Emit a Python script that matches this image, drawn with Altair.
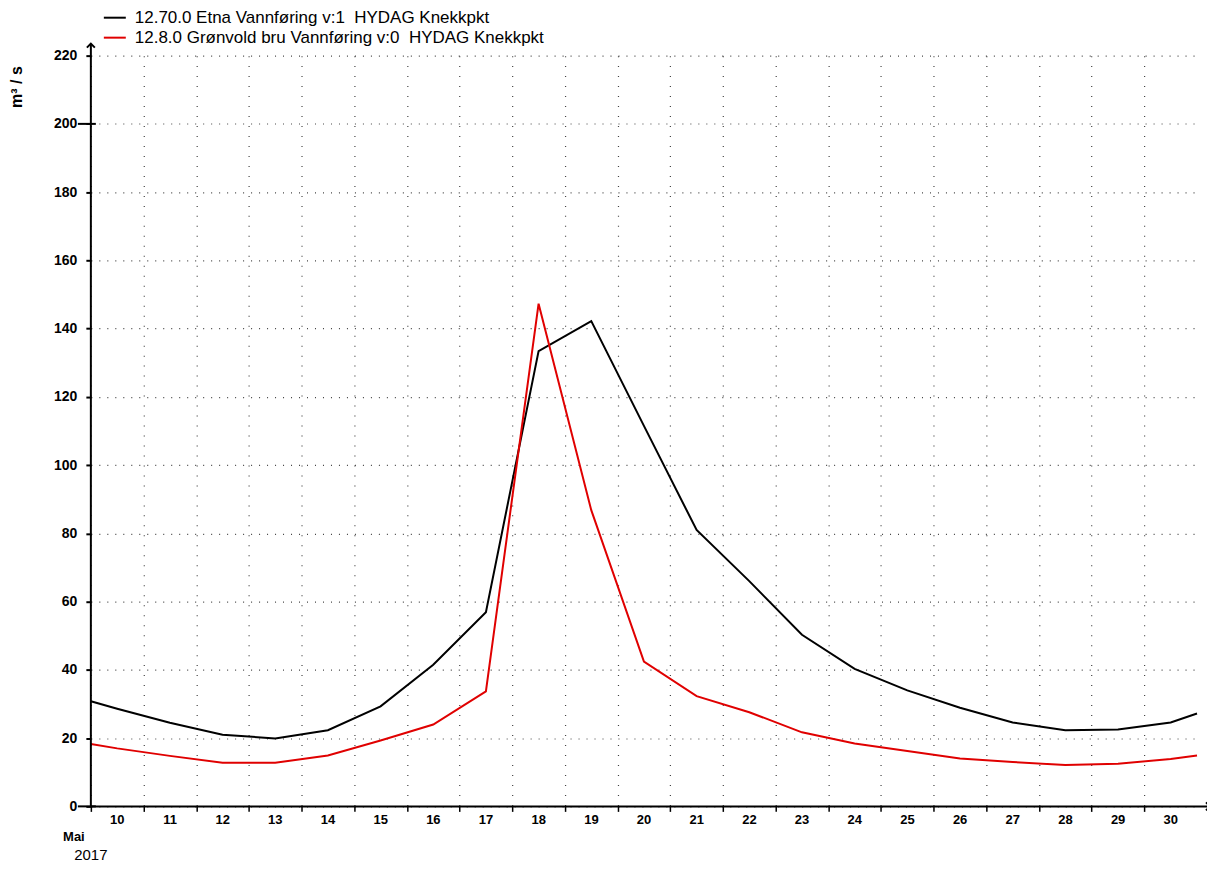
import altair as alt
import pandas as pd

# ---- data ----
times = [
    "2017-05-10T00:00:00", "2017-05-10T12:00:00", "2017-05-11T12:00:00", "2017-05-12T12:00:00",
    "2017-05-13T12:00:00", "2017-05-14T12:00:00", "2017-05-15T12:00:00", "2017-05-16T12:00:00",
    "2017-05-17T12:00:00", "2017-05-18T12:00:00", "2017-05-19T12:00:00", "2017-05-20T12:00:00",
    "2017-05-21T12:00:00", "2017-05-22T12:00:00", "2017-05-23T12:00:00", "2017-05-24T12:00:00",
    "2017-05-25T12:00:00", "2017-05-26T12:00:00", "2017-05-27T12:00:00", "2017-05-28T12:00:00",
    "2017-05-29T12:00:00", "2017-05-30T12:00:00", "2017-05-31T00:00:00",
]
etna = [30.8, 28.6, 24.5, 21.0, 19.9, 22.3, 29.3, 41.5, 56.9, 133.4, 142.2, 111.5,
        81.0, 66.0, 50.3, 40.3, 34.0, 28.9, 24.6, 22.3, 22.5, 24.6, 27.2]
gronvold = [18.3, 17.0, 14.8, 12.8, 12.8, 14.9, 19.3, 24.0, 33.7, 147.3, 86.8, 42.4,
            32.3, 27.6, 21.7, 18.4, 16.2, 14.0, 13.0, 12.1, 12.5, 13.9, 14.9]

series_names = [
    "12.70.0 Etna Vannføring v:1\u00a0 HYDAG Knekkpkt",
    "12.8.0 Grønvold bru Vannføring v:0\u00a0 HYDAG Knekkpkt",
]
series_colors = ["#000000", "#e00000"]

day_ticks = [10, 11, 12, 13, 14, 15, 16, 17, 18, 19, 20, 21, 22, 23, 24, 25, 26, 27, 28, 29, 30]
y_ticks = [0, 20, 40, 60, 80, 100, 120, 140, 160, 180, 200, 220]
y_major = [0, 200]
month_label = "Mai"
year_label = "2017"
y_title = "m³ / s"

rows = []
for name, vals in zip(series_names, [etna, gronvold]):
    for t, v in zip(times, vals):
        rows.append({"series": name, "time": t, "value": v})
df = pd.DataFrame(rows)

W, H = 1108, 752
FONT = "Liberation Sans"

x_scale = alt.Scale(domain=[alt.DateTime(year=2017, month=5, date=10),
                            alt.DateTime(year=2017, month=5, date=31)])
y_scale = alt.Scale(domain=[0, 220], nice=False)

lines = alt.Chart(df).mark_line(strokeWidth=2).encode(
    x=alt.X("time:T", scale=x_scale,
            axis=alt.Axis(values=[alt.DateTime(year=2017, month=5, date=d) for d in day_ticks],
                          labelExpr="date(datum.value)", title=None, domain=False,
                          grid=True, gridDash=[1, 9], gridColor="#444444", gridWidth=1.2,
                          ticks=True, tickSize=5, tickWidth=1.5, tickColor="#000000",
                          labelOffset=26, labelPadding=2, labelFont=FONT, labelFontSize=13,
                          labelFontWeight="bold", labelColor="#000000", labelFlush=False,
                          labelOverlap=False)),
    y=alt.Y("value:Q", scale=y_scale,
            axis=alt.Axis(values=y_ticks, title=y_title, domain=False,
                          grid=True, gridDash=[1, 7], gridColor="#444444", gridWidth=1.2,
                          tickSize=5, tickWidth=2, tickColor="#000000",
                          labelPadding=9, labelFont=FONT, labelFontSize=14,
                          labelFontWeight="bold", labelColor="#000000",
                          titleFont=FONT, titleFontSize=16, titleFontWeight="bold",
                          titleColor="#000000", titleX=-74, titleY=31,
                          titleAlign="center", titleBaseline="middle")),
    color=alt.Color("series:N", scale=alt.Scale(domain=series_names, range=series_colors),
                    legend=alt.Legend(orient="none", legendX=12, legendY=-50, title=None,
                                      symbolType="stroke", symbolSize=484,
                                      symbolStrokeWidth=2, labelFont=FONT,
                                      labelFontSize=17, labelColor="#000000",
                                      labelLimit=0, rowPadding=0, labelOffset=8,
                                      padding=0)),
)

one = pd.DataFrame({"k": [0]})
major = pd.DataFrame({"v": y_major})

major_ticks = alt.Chart(major).mark_rule(color="#000000", strokeWidth=2).encode(
    y=alt.Y("v:Q", scale=y_scale), x=alt.value(-13), x2=alt.value(5))
y_axis_line = alt.Chart(one).mark_rule(color="#000000", strokeWidth=2).encode(
    x=alt.value(0), y=alt.value(-12), y2=alt.value(H))
x_axis_line = alt.Chart(one).mark_rule(color="#000000", strokeWidth=2).encode(
    x=alt.value(0), x2=alt.value(W + 13), y=alt.value(H))
y_arrow = alt.Chart(one).mark_point(shape="M-1,1L0,0L1,1", filled=False, color="#000000",
                                   strokeWidth=2, size=64, opacity=1).encode(
    x=alt.value(0), y=alt.value(-12))
x_arrow = alt.Chart(one).mark_point(shape="M-1,-1L0,0L-1,1", filled=False, color="#000000",
                                   strokeWidth=2, size=64, opacity=1).encode(
    x=alt.value(W + 13), y=alt.value(H))
month_text = alt.Chart(one).mark_text(font=FONT, fontSize=13, fontWeight="bold",
                                      color="#000000", align="center", baseline="middle").encode(
    x=alt.value(-17), y=alt.value(783), text=alt.value(month_label))
year_text = alt.Chart(one).mark_text(font=FONT, fontSize=15, color="#000000",
                                     align="center", baseline="middle").encode(
    x=alt.value(0), y=alt.value(801), text=alt.value(year_label))

chart = alt.layer(lines, major_ticks, y_axis_line, x_axis_line, y_arrow, x_arrow,
                  month_text, year_text).properties(
    width=W, height=H, autosize="none",
    padding={"left": 83, "top": 47, "right": 10, "bottom": 55},
    background="#ffffff",
).configure_view(stroke=None)

chart.save("out.html", embed_options={"renderer": "svg", "actions": False})
